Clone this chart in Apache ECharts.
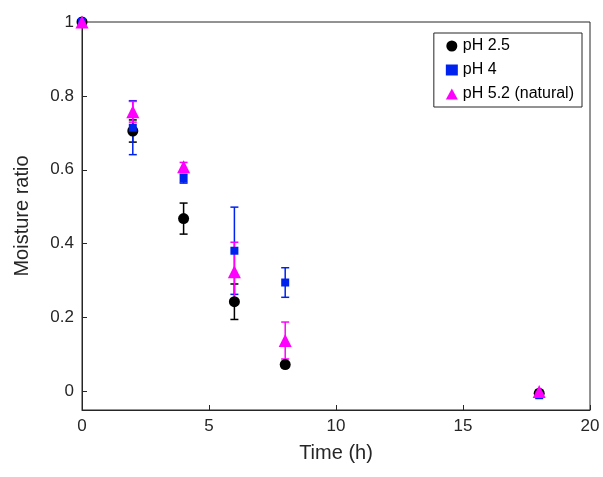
<!DOCTYPE html>
<html><head><meta charset="utf-8">
<script src="https://cdn.jsdelivr.net/npm/echarts@6/dist/echarts.min.js"></script>
<style>body{margin:0}#c{width:603px;height:477px}</style></head>
<body><div id="c"></div>
<script>
var times = [0, 2, 4, 6, 8, 18];
var ph25 = [1, 0.705, 0.468, 0.243, 0.073, -0.005];
var ph25Err = [0.005, 0.03, 0.042, 0.048, 0.008, 0.005];
var ph4 = [1, 0.714, 0.576, 0.381, 0.295, -0.01];
var ph4Err = [0.005, 0.073, 0.012, 0.118, 0.04, 0.006];
var ph52 = [1, 0.757, 0.608, 0.324, 0.138, 0.0];
var ph52Err = [0.005, 0.028, 0.012, 0.08, 0.05, 0.005];

var chart = echarts.init(document.getElementById('c'));

function pts(v) { return times.map(function (t, i) { return [t, v[i]]; }); }
function errs(v, e) { return times.map(function (t, i) { return [t, v[i] - e[i], v[i] + e[i]]; }); }

function errSeries(name, v, e, color) {
  return {
    name: name, type: 'custom', data: errs(v, e), z: 1, itemStyle: { color: color },
    renderItem: function (params, api) {
      var lo = api.coord([api.value(0), api.value(1)]);
      var hi = api.coord([api.value(0), api.value(2)]);
      var w = 4;
      var st = { stroke: color, lineWidth: 1.5 };
      return { type: 'group', children: [
        { type: 'line', shape: { x1: lo[0], y1: lo[1], x2: hi[0], y2: hi[1] }, style: st },
        { type: 'line', shape: { x1: lo[0] - w, y1: lo[1], x2: lo[0] + w, y2: lo[1] }, style: st },
        { type: 'line', shape: { x1: hi[0] - w, y1: hi[1], x2: hi[0] + w, y2: hi[1] }, style: st }
      ]};
    }
  };
}

var axisCommon = {
  axisLine: { show: true, onZero: false, lineStyle: { color: '#262626', width: 1 } },
  axisTick: { show: true, inside: true, length: 5, lineStyle: { color: '#262626' } },
  axisLabel: { color: '#262626', fontSize: 17, fontFamily: 'Liberation Sans' },
  splitLine: { show: false },
  nameTextStyle: { color: '#262626', fontSize: 20, fontFamily: 'Liberation Sans' }
};

chart.setOption({
  animation: false,
  grid: { left: 82, right: 13, top: 22, bottom: 67, show: true, borderColor: '#262626', borderWidth: 1 },
  legend: {
    right: 21, top: 33, orient: 'vertical', itemGap: 8, itemWidth: 12, itemHeight: 11,
    backgroundColor: '#fff', borderColor: '#262626', borderWidth: 1, padding: [5, 8, 5, 12],
    textStyle: { fontSize: 16, fontFamily: 'Liberation Sans', color: '#000' },
    data: [
      { name: 'pH 2.5', icon: 'circle', itemStyle: { color: '#000' } },
      { name: 'pH 4', icon: 'rect', itemStyle: { color: '#0022ee' } },
      { name: 'pH 5.2 (natural)', icon: 'triangle', itemStyle: { color: '#ff00ff' } }
    ]
  },
  xAxis: Object.assign({}, axisCommon, {
    type: 'value', min: 0, max: 20, interval: 5,
    name: 'Time (h)', nameLocation: 'middle', nameGap: 33
  }),
  yAxis: Object.assign({}, axisCommon, {
    type: 'value', min: -0.05, max: 1,
    name: 'Moisture ratio', nameLocation: 'middle', nameGap: 50,
    axisLabel: Object.assign({}, axisCommon.axisLabel, {
      customValues: [0, 0.2, 0.4, 0.6, 0.8, 1],
      formatter: function (v) { return Math.abs(v) < 1e-9 ? '0' : (v === 1 ? '1' : String(+v.toFixed(1))); }
    }),
    axisTick: Object.assign({}, axisCommon.axisTick, { customValues: [0, 0.2, 0.4, 0.6, 0.8, 1] })
  }),
  series: [
    { name: 'pH 2.5', type: 'scatter', data: pts(ph25), symbol: 'circle', symbolSize: 11, itemStyle: { color: '#000', opacity: 1 }, z: 3 },
    { name: 'pH 4', type: 'scatter', data: pts(ph4), symbol: 'rect', symbolSize: 8, itemStyle: { color: '#0022ee', opacity: 1 }, z: 4 },
    { name: 'pH 5.2 (natural)', type: 'scatter', data: pts(ph52), symbol: 'triangle', symbolSize: 13, itemStyle: { color: '#ff00ff', opacity: 1 }, z: 5 },
    errSeries('pH 2.5', ph25, ph25Err, '#000'),
    errSeries('pH 4', ph4, ph4Err, '#0022ee'),
    errSeries('pH 5.2 (natural)', ph52, ph52Err, '#ff00ff')
  ]
});
</script></body></html>
